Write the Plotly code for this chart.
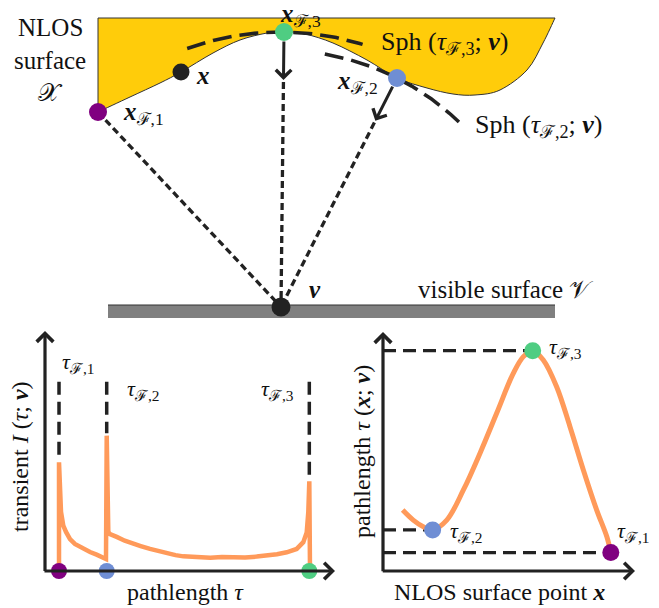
import numpy as np
import plotly.graph_objects as go

W, H = 659, 608
FONT = "Liberation Serif, DejaVu Serif, serif"
INK = "#222222"
C_PURPLE = "#800080"
C_GREEN = "#4fcd82"
C_BLUE = "#6f8ed4"
C_ORANGE = "#ff9a5a"
C_YELLOW = "#ffcc0a"
C_GRAY = "#808080"

# ---------------- top illustration (scene coordinates) ----------------
surface_x = [98, 130, 160, 181, 213, 240, 267, 284, 305, 333, 367, 397, 427, 453, 475, 500, 527, 543, 555]
surface_y = [112, 97, 83, 72, 53, 40, 33, 31.5, 34, 43, 60, 78, 88, 94, 95, 90, 70, 43, 18]
surface_top_y = 18
surface_left_x = 98

v_x, v_y = 281, 307
# points on the NLOS surface: x_F,1, x, x_F,3, x_F,2
pts_x = [98, 181, 284, 397]
pts_y = [112, 72, 32, 78]
pts_col = [C_PURPLE, INK, C_GREEN, C_BLUE]

# spheres Sph(tau_F,3; v) and Sph(tau_F,2; v): (through point, arc start, arc end)
sph3_through = (284, 32)
sph3_ends = [(187, 48), (363, 43)]
sph2_through = (397, 78)
sph2_ends = [(325, 53), (458, 123)]
arrow_len = 48

ground_x = [108, 555]
ground_y = [305, 318]

# ---------------- transient panel ----------------
tau_samples = [0.483, 0.483, 0.552, 0.631, 0.724, 0.862, 1.03, 1.207, 1.38, 1.552, 1.78, 2.0, 2.103,
               2.128, 2.183, 2.241, 2.35, 2.472, 2.75, 3.034, 3.3, 3.621, 3.9, 4.197, 4.5, 4.769,
               5.05, 5.345, 5.7, 6.1, 6.493, 6.9, 7.3, 7.645, 8.0, 8.334, 8.679, 8.907, 9.024,
               9.079, 9.114, 9.138]
intensity = [0.0, 0.453, 0.246, 0.189, 0.163, 0.133, 0.113, 0.100, 0.088, 0.079, 0.068, 0.058, 0.050,
             0.564, 0.163, 0.154, 0.146, 0.142, 0.126, 0.113, 0.104, 0.092, 0.084, 0.071, 0.066, 0.061,
             0.059, 0.057, 0.055, 0.058, 0.057, 0.056, 0.060, 0.064, 0.070, 0.078, 0.092, 0.120, 0.161,
             0.245, 0.374, 0.0]
tau_F = [0.483, 2.128, 9.114]
peak_I = [0.453, 0.564, 0.374]
marker_top_I = 0.789
tauF_label_tau = [1.14, 3.38, 8.0]
tauF_label_I = [0.867, 0.754, 0.754]

# ---------------- pathlength panel ----------------
surf_s = [0.78, 1.20, 1.60, 1.97, 2.53, 3.19, 3.85, 4.51, 5.17, 5.57, 5.94, 6.36, 6.89, 7.42, 7.95, 8.48, 8.88, 9.04]
path_tau = [2.55, 2.13, 1.85, 1.72, 2.13, 3.39, 4.93, 6.60, 8.27, 8.97, 9.22, 8.83, 7.71, 6.04, 4.23, 2.55, 1.44, 0.77]
crit_s = [9.04, 1.97, 5.94]      # F,1  F,2  F,3
crit_tau = [0.77, 1.72, 9.22]
crit_col = [C_PURPLE, C_BLUE, C_GREEN]
crit_label_s = [9.21, 2.58, 6.51]
crit_label_tau = [1.63, 1.63, 9.33]


def dom_x(px0, ppu, r):
    return [(px0 + r[0] * ppu) / W, (px0 + r[1] * ppu) / W]


def dom_y(py0, ppu, r):
    return [(H - (py0 - r[0] * ppu)) / H, (H - (py0 - r[1] * ppu)) / H]


def tauF(n):
    return f"<i>τ</i><sub>ℱ,{n}</sub>"


def smooth_path(xs, ys):
    pts = np.array(list(zip(xs, ys)), dtype=float)
    d = ""
    n = len(pts)
    for i in range(n - 1):
        p0 = pts[i - 1] if i > 0 else pts[i]
        p1, p2 = pts[i], pts[i + 1]
        p3 = pts[i + 2] if i + 2 < n else pts[i + 1]
        c1 = p1 + (p2 - p0) / 6.0
        c2 = p2 - (p3 - p1) / 6.0
        d += f" C{c1[0]:.2f},{c1[1]:.2f} {c2[0]:.2f},{c2[1]:.2f} {p2[0]:.2f},{p2[1]:.2f}"
    return d


def arc(through, ends):
    r = np.hypot(through[0] - v_x, through[1] - v_y)
    a0 = np.arctan2(ends[0][0] - v_x, v_y - ends[0][1])
    a1 = np.arctan2(ends[1][0] - v_x, v_y - ends[1][1])
    a = np.linspace(a0, a1, 60)
    return v_x + r * np.sin(a), v_y - r * np.cos(a)


fig = go.Figure()

# -------- top scene --------
path = (f"M{surface_left_x},{surface_top_y} L{surface_x[0]},{surface_y[0]}"
        + smooth_path(surface_x, surface_y) + " Z")
shapes = [
    dict(type="path", path=path, xref="x", yref="y", fillcolor=C_YELLOW,
         line=dict(color="#333333", width=1), layer="below"),
    dict(type="rect", xref="x", yref="y", x0=ground_x[0], x1=ground_x[1], y0=ground_y[0], y1=ground_y[1],
         fillcolor=C_GRAY, line=dict(width=0), layer="below"),
    dict(type="line", xref="x", yref="y", x0=ground_x[0], x1=ground_x[1], y0=ground_y[0], y1=ground_y[0],
         line=dict(color="#333333", width=1.2), layer="below"),
]

for thr, ends in [(sph3_through, sph3_ends), (sph2_through, sph2_ends)]:
    ax_, ay_ = arc(thr, ends)
    fig.add_trace(go.Scatter(x=ax_, y=ay_, mode="lines", xaxis="x", yaxis="y",
                             line=dict(color=INK, width=3.6, dash="19px,8px"), hoverinfo="skip"))

annotations = []
# rays to v
ray_sources = [(pts_x[0], pts_y[0], False), (pts_x[2], pts_y[2], True), (pts_x[3], pts_y[3], True)]
for sx, sy, with_arrow in ray_sources:
    dx, dy = v_x - sx, v_y - sy
    L = np.hypot(dx, dy)
    ux, uy = dx / L, dy / L
    if with_arrow:
        tx, ty = sx + ux * arrow_len, sy + uy * arrow_len
        annotations.append(dict(x=tx, y=ty, ax=sx, ay=sy, xref="x", yref="y", axref="x", ayref="y",
                                showarrow=True, arrowhead=4, arrowsize=1, arrowwidth=3,
                                arrowcolor=INK, startstandoff=8, text=""))
        x0, y0 = tx + ux * 2, ty + uy * 2
    else:
        x0, y0 = sx, sy
    fig.add_trace(go.Scatter(x=[x0, v_x], y=[y0, v_y], mode="lines", xaxis="x", yaxis="y",
                             line=dict(color=INK, width=3.3, dash="7px,4px"), hoverinfo="skip"))

fig.add_trace(go.Scatter(x=pts_x + [v_x], y=pts_y + [v_y], mode="markers", xaxis="x", yaxis="y",
                         marker=dict(size=[18, 17, 18, 18, 19], color=pts_col + [INK], opacity=1,
                                     line=dict(width=0)),
                         cliponaxis=False, hoverinfo="skip"))

top_labels = [
    ("NLOS", 50, 27, 25, "center"),
    ("surface", 50, 60, 25, "center"),
    ("𝒳", 50, 92, 25, "center"),
    ("<b><i>x</i></b><sub>ℱ,3</sub>", 300, 15, 25, "center"),
    ("<b><i>x</i></b>", 203, 75, 25, "center"),
    ("<b><i>x</i></b><sub>ℱ,1</sub>", 143, 113, 25, "center"),
    ("<b><i>x</i></b><sub>ℱ,2</sub>", 357, 82, 25, "center"),
    ("Sph (" + tauF(3) + "; <b><i>v</i></b>)", 445, 43, 26, "center"),
    ("Sph (" + tauF(2) + "; <b><i>v</i></b>)", 539, 126, 26, "center"),
    ("<b><i>v</i></b>", 315, 289, 25, "center"),
    ("visible surface 𝒱", 506, 289, 25, "center"),
    ("pathlength <i>τ</i>", 185, 592, 24, "center"),
    ("NLOS surface point <b><i>x</i></b>", 499, 592, 24, "center"),
]
for t, x, y, s, xa in top_labels:
    annotations.append(dict(text=t, x=x, y=y, xref="x", yref="y", showarrow=False, xanchor=xa,
                            font=dict(family=FONT, size=s, color="#111111")))
for t, x, y in [("transient <i>I</i> (<i>τ</i>; <b><i>v</i></b>)", 20, 457),
                ("pathlength <i>τ</i> (<b><i>x</i></b>; <b><i>v</i></b>)", 362, 452)]:
    annotations.append(dict(text=t, x=x, y=y, xref="x", yref="y", showarrow=False, textangle=-90,
                            font=dict(family=FONT, size=24, color="#111111")))

# -------- transient panel --------
fig.add_trace(go.Scatter(x=tau_samples, y=intensity, mode="lines", xaxis="x2", yaxis="y2",
                         line=dict(color=C_ORANGE, width=4.5), hoverinfo="skip"))
for t, p in zip(tau_F, peak_I):
    fig.add_trace(go.Scatter(x=[t, t], y=[marker_top_I, p + 0.01], mode="lines", xaxis="x2", yaxis="y2",
                             line=dict(color=INK, width=3.5, dash="13px,7px"), hoverinfo="skip"))
fig.add_trace(go.Scatter(x=tau_F, y=[0, 0, 0], mode="markers", xaxis="x2", yaxis="y2",
                         marker=dict(size=16, color=[C_PURPLE, C_BLUE, C_GREEN], opacity=1),
                         cliponaxis=False, hoverinfo="skip"))
for i in range(3):
    annotations.append(dict(text=tauF(i + 1), x=tauF_label_tau[i], y=tauF_label_I[i], xref="x2", yref="y2",
                            showarrow=False, font=dict(family=FONT, size=22, color="#111111")))
for (x1, y1, x0, y0) in [(10.0, 0, -0.07, 0), (0, 1.0, 0, -0.006)]:
    annotations.append(dict(x=x1, y=y1, ax=x0, ay=y0, xref="x2", yref="y2", axref="x2", ayref="y2",
                            showarrow=True, arrowhead=4, arrowsize=1, arrowwidth=3.2, arrowcolor=INK, text=""))

# -------- pathlength panel --------
for s, t in zip(crit_s, crit_tau):
    fig.add_trace(go.Scatter(x=[0, s], y=[t, t], mode="lines", xaxis="x3", yaxis="y3",
                             line=dict(color=INK, width=3.2, dash="13px,7px"), hoverinfo="skip"))
fig.add_trace(go.Scatter(x=surf_s, y=path_tau, mode="lines", xaxis="x3", yaxis="y3",
                         line=dict(color=C_ORANGE, width=5, shape="spline", smoothing=1), hoverinfo="skip"))
fig.add_trace(go.Scatter(x=crit_s, y=crit_tau, mode="markers", xaxis="x3", yaxis="y3",
                         marker=dict(size=17, color=crit_col, opacity=1), cliponaxis=False, hoverinfo="skip"))
for i in range(3):
    annotations.append(dict(text=tauF(i + 1), x=crit_label_s[i], y=crit_label_tau[i], xref="x3", yref="y3",
                            showarrow=False, xanchor="left", font=dict(family=FONT, size=22, color="#111111")))
for (x1, y1, x0, y0) in [(10.0, 0, -0.07, 0), (0, 10.0, 0, -0.07)]:
    annotations.append(dict(x=x1, y=y1, ax=x0, ay=y0, xref="x3", yref="y3", axref="x3", ayref="y3",
                            showarrow=True, arrowhead=4, arrowsize=1, arrowwidth=3.2, arrowcolor=INK, text=""))

r2x, r2y = [-1.0, 10.4], [-0.08, 1.03]
r3x, r3y = [-1.0, 10.4], [-0.8, 10.3]
hidden = dict(visible=False, showgrid=False, zeroline=False, fixedrange=True)
fig.update_layout(
    width=W, height=H, margin=dict(l=0, r=0, t=0, b=0),
    paper_bgcolor="white", plot_bgcolor="rgba(0,0,0,0)", showlegend=False,
    xaxis=dict(domain=[0, 1], range=[0, W], **hidden),
    yaxis=dict(domain=[0, 1], range=[H, 0], **hidden),
    xaxis2=dict(domain=dom_x(45, 29, r2x), range=r2x, anchor="y2", **hidden),
    yaxis2=dict(domain=dom_y(571, 240, r2y), range=r2y, anchor="x2", **hidden),
    xaxis3=dict(domain=dom_x(383, 25.2, r3x), range=r3x, anchor="y3", **hidden),
    yaxis3=dict(domain=dom_y(571, 23.9, r3y), range=r3y, anchor="x3", **hidden),
    shapes=shapes, annotations=annotations,
)
fig.write_html("out.html", config={"displayModeBar": False, "staticPlot": True},
               post_script="document.body.style.margin='0';document.body.style.overflow='hidden';")
